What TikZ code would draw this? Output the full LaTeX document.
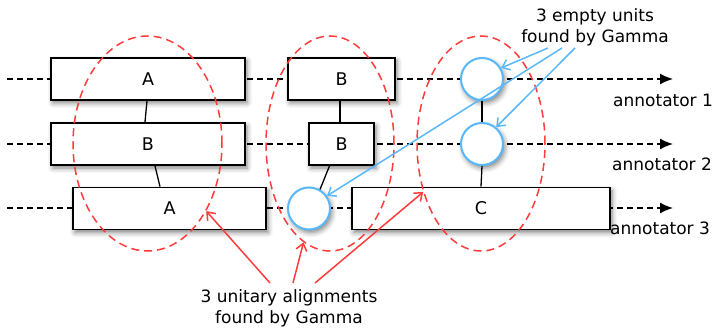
\documentclass[tikz,border=0pt]{standalone}
\usepackage{fontspec}
\setmainfont{DejaVu Sans}
\usetikzlibrary{arrows.meta, shapes.geometric, shadows.blur}
\definecolor{gammablue}{HTML}{5AB8F8}
\definecolor{gammared}{HTML}{FF3B3B}

\begin{document}
\begin{tikzpicture}[x=1pt, y=-1pt,
        unit/.style={rectangle, draw, line width=1.8pt, fill=white, minimum height=42pt, inner sep=0pt,
          font=\fontsize{17.5}{21}\selectfont,
          blur shadow={shadow xshift=2pt, shadow yshift=-3pt, shadow blur radius=5pt, shadow opacity=50}},
        gap/.style={circle, draw=gammablue, line width=2pt, fill=white, minimum size=42pt, inner sep=0pt,
          blur shadow={shadow xshift=2pt, shadow yshift=-3pt, shadow blur radius=5pt, shadow opacity=50}},
        group/.style={ellipse, draw=gammared, line width=1.5pt, dash pattern=on 8pt off 5pt, inner sep=0pt},
        track/.style={line width=1.5pt, dash pattern=on 6pt off 4pt, -{Latex[length=13pt, width=11pt]}},
        link/.style={line width=1.3pt},
        pointer/.style={line width=1.5pt, -{Straight Barb[length=7pt, width=11pt]}},
        note/.style={font=\fontsize{17}{21}\selectfont, inner sep=0pt}]
      \useasboundingbox (0,0) rectangle (712,331);

      % Timelines
      \coordinate (startOne) at (7,79);
      \coordinate (endOne) at (673,79);
      \coordinate (startTwo) at (7,144);
      \coordinate (endTwo) at (673,144);
      \coordinate (startThree) at (7,208);
      \coordinate (endThree) at (673,208);
      \draw[track] (startOne) -- (endOne);
      \draw[track] (startTwo) -- (endTwo);
      \draw[track] (startThree) -- (endThree);
      \node[note, anchor=base west] (annOne) at (613,107) {annotator 1};
      \node[note, anchor=base west] (annTwo) at (612,171) {annotator 2};
      \node[note, anchor=base west] (annThree) at (610,235) {annotator 3};

      % Units
      \node[unit, minimum width=194pt] (oneA) at (148,79) {A};
      \node[unit, minimum width=107pt] (oneB) at (341.5,79) {B};
      \node[gap] (oneE) at (482,79) {};
      \node[unit, minimum width=194pt] (twoB) at (148,144) {B};
      \node[unit, minimum width=65pt] (twoBb) at (341.5,144) {B};
      \node[gap] (twoE) at (482,144) {};
      \node[unit, minimum width=193pt] (threeA) at (169.5,208.5) {A};
      \node[gap] (threeE) at (309,208.5) {};
      \node[unit, minimum width=258pt] (threeC) at (481,208.5) {C};

      % Links
      \draw[link] ([xshift=-1pt]oneA.south) -- ([xshift=-3pt]twoB.north);
      \draw[link] ([xshift=7pt]twoB.south) -- ([xshift=-9.5pt]threeA.north);
      \draw[link] ([xshift=-1.5pt]oneB.south) -- ([xshift=-1.5pt]twoBb.north);
      \draw[link] ([xshift=-12pt]twoBb.south) -- (threeE.60);
      \draw[link] (oneE) -- (twoE);
      \draw[link] (twoE.south) -- (threeC.north);

      % Alignments
      \node[group, minimum width=149pt, minimum height=215pt] (grpA) at (147.5,143.5) {};
      \node[group, minimum width=128pt, minimum height=215pt] (grpB) at (330,143.5) {};
      \node[group, minimum width=128pt, minimum height=215pt] (grpC) at (481,143.5) {};

      % Notes
      \node[note, align=center, anchor=north] (emptyNote) at (595,8) {3 empty units\\found by Gamma};
      \coordinate (fromE1) at (548,48);
      \coordinate (fromE2) at (562,48);
      \coordinate (fromE3) at (575,48);
      \draw[pointer, gammablue] (fromE1) -- (oneE.30);
      \draw[pointer, gammablue] (fromE2) -- (threeE.35);
      \draw[pointer, gammablue] (fromE3) -- (twoE.50);

      \node[note, align=center, anchor=north] (unitNote) at (289,289) {3 unitary alignments\\found by Gamma};
      \coordinate (fromU1) at (270,283);
      \coordinate (fromU2) at (293,283);
      \coordinate (fromU3) at (315,283);
      \draw[pointer, gammared] (fromU1) -- (grpA.-49);
      \draw[pointer, gammared] (fromU2) -- (grpB.-105);
      \draw[pointer, gammared] (fromU3) -- (grpC.-140);
    \end{tikzpicture}
\end{document}
